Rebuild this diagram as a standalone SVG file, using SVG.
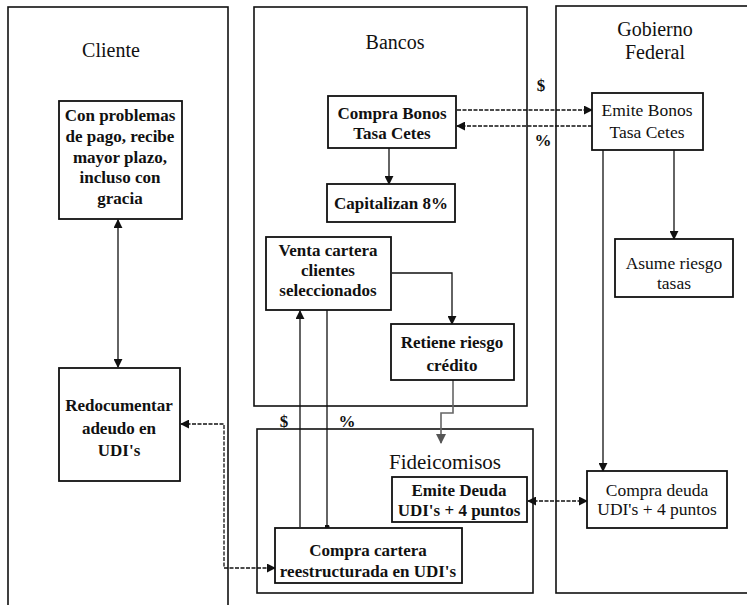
<svg xmlns="http://www.w3.org/2000/svg" width="747" height="605" viewBox="0 0 747 605">
<style>
.panel{fill:none;stroke:#111;stroke-width:1.6}
.box{fill:#fff;stroke:#111;stroke-width:1.8}
.t{font-family:"Liberation Serif",serif;font-weight:bold;font-size:17px;fill:#111;text-anchor:middle}
.tn{font-family:"Liberation Serif",serif;font-size:17.5px;fill:#111;text-anchor:middle}
.title{font-family:"Liberation Serif",serif;font-size:20px;fill:#111;text-anchor:middle}
.c{fill:none;stroke:#111;stroke-width:1.3}
.d{fill:none;stroke:#111;stroke-width:1.3;stroke-dasharray:4 1.5}
.g{fill:none;stroke:#666;stroke-width:1.6}
.lbl{font-family:"Liberation Serif",serif;font-weight:bold;font-size:17px;fill:#111;text-anchor:middle}
</style>
<defs>
<marker id="ah" viewBox="0 0 10 10" refX="9" refY="5" markerWidth="9" markerHeight="9" markerUnits="userSpaceOnUse" orient="auto-start-reverse">
<path d="M0,0 L10,5 L0,10 z" fill="#111"/>
</marker>
<marker id="ahg" viewBox="0 0 10 10" refX="9" refY="5" markerWidth="10" markerHeight="10" markerUnits="userSpaceOnUse" orient="auto">
<path d="M0,0 L10,5 L0,10 z" fill="#555"/>
</marker>
<marker id="dot" viewBox="0 0 6 6" refX="3" refY="3" markerWidth="5" markerHeight="5" markerUnits="userSpaceOnUse">
<circle cx="3" cy="3" r="3" fill="#111"/>
</marker>
</defs>
<rect width="747" height="605" fill="#fff"/>

<g id="panel-cliente">
<rect class="panel" x="8" y="7" width="220" height="610"/>
<text class="title" x="111" y="57">Cliente</text>
</g>
<g id="panel-bancos">
<rect class="panel" x="254" y="7" width="273" height="399"/>
<text class="title" x="395" y="49">Bancos</text>
</g>
<g id="panel-gobierno">
<rect class="panel" x="556" y="6" width="200" height="587"/>
<text class="title" x="655" y="36">Gobierno</text>
<text class="title" x="655" y="59">Federal</text>
</g>
<g id="panel-fideicomisos">
<rect class="panel" x="257" y="429" width="276" height="164"/>
<text class="title" x="445" y="469" style="font-size:21px">Fideicomisos</text>
</g>

<g id="connectors">
<line class="c" x1="118" y1="220" x2="118" y2="367" marker-start="url(#ah)" marker-end="url(#ah)"/>
<line class="c" x1="389" y1="148" x2="389" y2="184" marker-end="url(#ah)"/>
<line class="d" x1="457" y1="110" x2="592" y2="110" marker-end="url(#ah)"/>
<line class="d" x1="592" y1="126" x2="457" y2="126" marker-end="url(#ah)"/>
<line class="c" x1="674" y1="150" x2="674" y2="239" marker-end="url(#ah)"/>
<line class="c" x1="603" y1="150" x2="603" y2="471" marker-end="url(#ah)"/>
<polyline class="c" points="392,273 452,273 452,324" marker-end="url(#ah)"/>
<polyline class="g" points="453,380 453,413 441,413 441,443" marker-end="url(#ahg)"/>
<line class="c" x1="300" y1="527" x2="300" y2="311" marker-end="url(#ah)"/>
<line class="c" x1="327" y1="310" x2="327" y2="527" marker-end="url(#dot)"/>
<line class="d" x1="528" y1="501" x2="587" y2="501" marker-start="url(#ah)" marker-end="url(#ah)"/>
<polyline class="d" points="181,424 224,424 224,568 275,568" marker-start="url(#ah)" marker-end="url(#ah)"/>
<text class="lbl" x="541" y="91">$</text>
<text class="lbl" x="543" y="146">%</text>
<text class="lbl" x="284" y="427">$</text>
<text class="lbl" x="347" y="427">%</text>
</g>

<g id="n-problemas">
<rect class="box" x="59" y="101" width="123" height="118"/>
<text class="t" x="120" y="121">Con problemas</text>
<text class="t" x="120" y="142">de pago, recibe</text>
<text class="t" x="120" y="163">mayor plazo,</text>
<text class="t" x="120" y="183">incluso con</text>
<text class="t" x="120" y="204">gracia</text>
</g>
<g id="n-redocumentar">
<rect class="box" x="59" y="368" width="121" height="113"/>
<text class="t" x="119" y="411">Redocumentar</text>
<text class="t" x="119" y="434">adeudo en</text>
<text class="t" x="119" y="456">UDI's</text>
</g>
<g id="n-comprabonos">
<rect class="box" x="328" y="96" width="128" height="52"/>
<text class="t" x="392" y="119">Compra Bonos</text>
<text class="t" x="392" y="139">Tasa Cetes</text>
</g>
<g id="n-capitalizan">
<rect class="box" x="327" y="184" width="128" height="38"/>
<text class="t" x="391" y="209">Capitalizan 8%</text>
</g>
<g id="n-venta">
<rect class="box" x="266" y="237" width="125" height="73"/>
<text class="t" x="328" y="256">Venta cartera</text>
<text class="t" x="328" y="276">clientes</text>
<text class="t" x="328" y="296">seleccionados</text>
</g>
<g id="n-retiene">
<rect class="box" x="391" y="324" width="123" height="56"/>
<text class="t" x="452" y="348">Retiene riesgo</text>
<text class="t" x="452" y="371">crédito</text>
</g>
<g id="n-emitedeuda">
<rect class="box" x="392" y="477" width="135" height="45"/>
<text class="t" x="459" y="496">Emite Deuda</text>
<text class="t" x="459" y="516">UDI's + 4 puntos</text>
</g>
<g id="n-compracartera">
<rect class="box" x="275" y="528" width="187" height="55"/>
<text class="t" x="368" y="556">Compra cartera</text>
<text class="t" x="368" y="577">reestructurada en UDI's</text>
</g>
<g id="n-emitebonos">
<rect class="box" x="592" y="93" width="111" height="57"/>
<text class="tn" x="647" y="116">Emite Bonos</text>
<text class="tn" x="647" y="138">Tasa Cetes</text>
</g>
<g id="n-asume">
<rect class="box" x="615" y="239" width="118" height="58"/>
<text class="tn" x="674" y="269">Asume riesgo</text>
<text class="tn" x="674" y="289">tasas</text>
</g>
<g id="n-compradeuda">
<rect class="box" x="587" y="471" width="140" height="57"/>
<text class="tn" x="657" y="496">Compra deuda</text>
<text class="tn" x="657" y="515">UDI's + 4 puntos</text>
</g>
</svg>
